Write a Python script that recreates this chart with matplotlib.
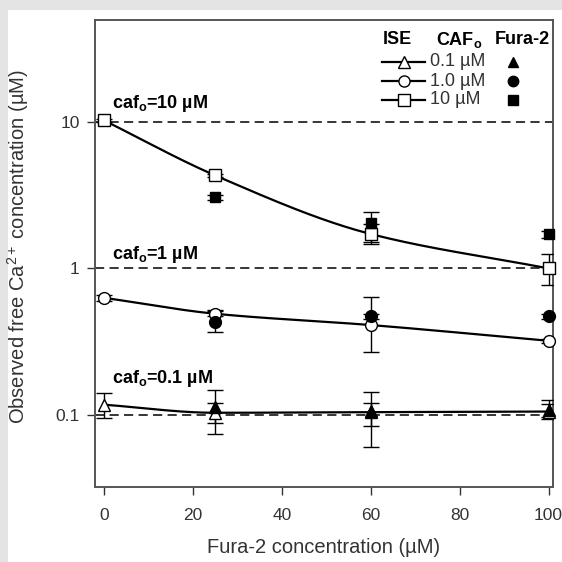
import numpy as np
import matplotlib
matplotlib.use('Agg')
import matplotlib.pyplot as plt
from matplotlib.patches import Rectangle

plt.rcParams['font.family'] = ['Liberation Sans', 'DejaVu Sans']
plt.rcParams['mathtext.fontset'] = 'custom'
plt.rcParams['mathtext.rm'] = 'Liberation Sans'
plt.rcParams['mathtext.bf'] = 'Liberation Sans:bold'
plt.rcParams['mathtext.it'] = 'Liberation Sans'

# ---- data ----
ise_x = [0, 25, 60, 100]
fura_x = [25, 60, 100]

ise_01 = [0.117, 0.103, 0.104, 0.105]
ise_01_lo = [0.095, 0.087, 0.083, 0.094]
ise_01_hi = [0.140, 0.121, 0.121, 0.118]
fura_01 = [0.112, 0.106, 0.108]
fura_01_lo = [0.074, 0.060, 0.097]
fura_01_hi = [0.148, 0.142, 0.126]

ise_1 = [0.63, 0.49, 0.41, 0.32]
ise_1_lo = [0.60, 0.47, 0.27, 0.31]
ise_1_hi = [0.66, 0.51, 0.64, 0.33]
fura_1 = [0.43, 0.47, 0.47]
fura_1_lo = [0.365, 0.45, 0.45]
fura_1_hi = [0.52, 0.49, 0.49]

ise_10 = [10.3, 4.33, 1.72, 1.0]
ise_10_lo = [10.1, 4.25, 1.46, 0.77]
ise_10_hi = [10.5, 4.41, 2.0, 1.25]
fura_10 = [3.06, 2.05, 1.71]
fura_10_lo = [2.95, 1.52, 1.62]
fura_10_hi = [3.17, 2.42, 1.80]

caf_levels = [0.1, 1, 10]
caf_labels = ['caf$_\\mathbf{o}$=0.1 µM', 'caf$_\\mathbf{o}$=1 µM', 'caf$_\\mathbf{o}$=10 µM']
legend_conc = ['0.1 µM', '1.0 µM', '10 µM']
x_ticks = [0, 20, 40, 60, 80, 100]
y_ticks = [0.1, 1, 10]
y_ticklabels = ['0.1', '1', '10']


def pchip(x, y, xn):
    x = np.asarray(x, float); y = np.asarray(y, float)
    h = np.diff(x); d = np.diff(y) / h
    m = np.zeros_like(y)
    for k in range(1, len(x) - 1):
        if d[k - 1] * d[k] > 0:
            w1 = 2 * h[k] + h[k - 1]; w2 = h[k] + 2 * h[k - 1]
            m[k] = (w1 + w2) / (w1 / d[k - 1] + w2 / d[k])
    m[0] = d[0]; m[-1] = d[-1]
    out = np.empty_like(xn)
    for i, xv in enumerate(xn):
        k = min(np.searchsorted(x, xv, side='right') - 1, len(x) - 2)
        k = max(k, 0)
        t = (xv - x[k]) / h[k]
        h00 = 2*t**3 - 3*t**2 + 1; h10 = t**3 - 2*t**2 + t
        h01 = -2*t**3 + 3*t**2; h11 = t**3 - t**2
        out[i] = h00*y[k] + h10*h[k]*m[k] + h01*y[k+1] + h11*h[k]*m[k+1]
    return out


fig = plt.figure(figsize=(5.62, 5.62), dpi=100, facecolor='#e4e4e4')
bg = Rectangle((8/562, 0), 1, 552/562, transform=fig.transFigure,
               facecolor='white', edgecolor='none', zorder=-10)
fig.add_artist(bg)
ax = fig.add_axes([95/562, 1 - 487/562, 458/562, 467/562])
ax.set_zorder(1)
ax.set_facecolor('white')

for lev in caf_levels:
    ax.axhline(lev, color='black', lw=1.1, ls=(0, (6, 3.5)), zorder=1)

xs = np.linspace(0, 100, 300)
ise_sets = [(ise_01, ise_01_lo, ise_01_hi, '^', 8.5),
            (ise_1, ise_1_lo, ise_1_hi, 'o', 8.5),
            (ise_10, ise_10_lo, ise_10_hi, 's', 8)]
fura_sets = [(fura_01, fura_01_lo, fura_01_hi, '^', 8.5),
             (fura_1, fura_1_lo, fura_1_hi, 'o', 8.5),
             (fura_10, fura_10_lo, fura_10_hi, 's', 7.5)]

for vals, lo, hi, mk, ms in ise_sets:
    ys = 10 ** pchip(ise_x, np.log10(vals), xs)
    ax.plot(xs, ys, color='black', lw=1.6, zorder=3)
    v = np.array(vals)
    ax.errorbar(ise_x, vals, yerr=[v - np.array(lo), np.array(hi) - v], fmt='none',
                ecolor='black', elinewidth=1.0, capsize=5.5, capthick=1.0, zorder=4)
    ax.plot(ise_x, vals, ls='none', marker=mk, ms=ms, mfc='white', mec='black',
            mew=1.0, zorder=5, clip_on=False)

for vals, lo, hi, mk, ms in fura_sets:
    v = np.array(vals)
    ax.errorbar(fura_x, vals, yerr=[v - np.array(lo), np.array(hi) - v], fmt='none',
                ecolor='black', elinewidth=1.0, capsize=5.5, capthick=1.0, zorder=4)
    ax.plot(fura_x, vals, ls='none', marker=mk, ms=ms, mfc='black', mec='black',
            mew=1.0, zorder=6, clip_on=False)

ax.set_yscale('log')
ax.set_xlim(-2, 101)
ax.set_ylim(0.032, 50)
ax.set_xticks(x_ticks)
ax.set_xticklabels([str(t) for t in x_ticks])
ax.set_yticks(y_ticks)
ax.set_yticklabels(y_ticklabels)
ax.yaxis.set_minor_locator(matplotlib.ticker.NullLocator())
ax.tick_params(axis='both', direction='out', length=6, width=1.0, color='#333333',
               labelsize=12.5, labelcolor='#333333')
ax.tick_params(axis='y', pad=5)
ax.tick_params(axis='x', pad=9)
ax.tick_params(top=False, right=False)
for sp in ax.spines.values():
    sp.set_color('#555555')
    sp.set_linewidth(1.4)

ax.set_xlabel('Fura-2 concentration (µM)', fontsize=14.5, color='#333333', labelpad=11)
ax.set_ylabel('Observed free Ca$^{2+}$ concentration (µM)', fontsize=14.5,
              color='#333333')
ax.yaxis.set_label_coords(-64 / 458, 0.515)

# caf labels
label_base = [383, 259, 108]
for lab, py in zip(caf_labels, label_base):
    ax.text((112 - 95) / 458, (487 - py) / 467, lab, transform=ax.transAxes,
            fontsize=13, fontweight='bold', va='baseline', ha='left')

# custom legend
def ax_xy(px, py):
    return (px - 95) / 458, (487 - py) / 467

hx, hy = ax_xy(397, 40)
ax.text(hx, hy, 'ISE', transform=ax.transAxes, fontsize=13, fontweight='bold',
        ha='center', va='center')
hx, hy = ax_xy(459, 40)
ax.text(hx, hy, 'CAF$_\\mathbf{o}$', transform=ax.transAxes, fontsize=13,
        fontweight='bold', ha='center', va='center')
hx, hy = ax_xy(522, 40)
ax.text(hx, hy, 'Fura-2', transform=ax.transAxes, fontsize=13, fontweight='bold',
        ha='center', va='center')

row_py = [62, 81, 100]
markers = ['^', 'o', 's']
for py, mk, lab in zip(row_py, markers, legend_conc):
    x0, y0 = ax_xy(382, py)
    x1, _ = ax_xy(425, py)
    xm, _ = ax_xy(404, py)
    ax.plot([x0, x1], [y0, y0], color='black', lw=1.6, transform=ax.transAxes,
            clip_on=False, zorder=7)
    ax.plot([xm], [y0], marker=mk, ms=8, mfc='white', mec='black', mew=1.0,
            transform=ax.transAxes, clip_on=False, zorder=8)
    xt, _ = ax_xy(430, py)
    ax.text(xt, y0, lab, transform=ax.transAxes, fontsize=13, ha='left',
            va='center', color='#333333')
    xf, _ = ax_xy(513, py)
    ax.plot([xf], [y0], marker=mk, ms=7.5, mfc='black', mec='black',
            transform=ax.transAxes, clip_on=False, zorder=8)

fig.savefig('out.png', dpi=100, facecolor=fig.get_facecolor())
